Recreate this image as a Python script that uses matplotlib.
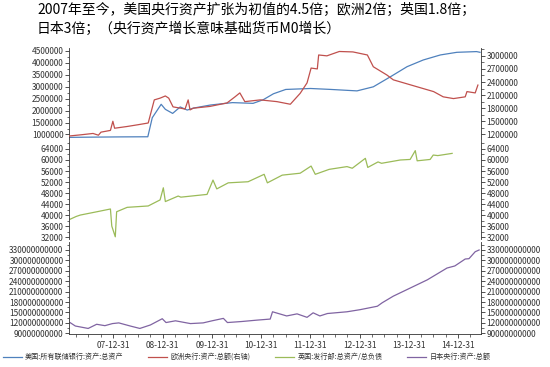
import matplotlib
matplotlib.use("Agg")
import matplotlib.pyplot as plt
import matplotlib.dates as mdates
from matplotlib.ticker import MultipleLocator, AutoMinorLocator, StrMethodFormatter
import pandas as pd

plt.rcParams['font.family'] = ['Noto Sans CJK SC', 'DejaVu Sans']

# -----------------------------------------------------------
# Datos
# -----------------------------------------------------------
fed_fechas = ["2007-02-01", "2007-08-01", "2008-03-01", "2008-09-12", "2008-10-15",
              "2008-12-20", "2009-01-20", "2009-03-15", "2009-05-10", "2009-07-01",
              "2009-08-15", "2009-12-20", "2010-06-01", "2010-11-01", "2011-01-15",
              "2011-04-01", "2011-07-01", "2012-01-01", "2012-06-01", "2012-12-10",
              "2013-04-10", "2013-08-15", "2013-12-16", "2014-04-15", "2014-08-20",
              "2014-12-20", "2015-05-15", "2015-06-10"]
fed_valores = [880000, 890000, 900000, 905000, 1700000,
               2260000, 2050000, 1880000, 2150000, 2020000,
               2100000, 2230000, 2330000, 2300000, 2450000,
               2700000, 2880000, 2920000, 2880000, 2820000,
               2990000, 3410000, 3830000, 4110000, 4320000,
               4430000, 4460000, 4430000]

bce_fechas = ["2007-02-01", "2007-05-08", "2007-08-03", "2007-09-12", "2007-10-01",
              "2007-12-10", "2007-12-28", "2008-01-10", "2008-04-12", "2008-07-01",
              "2008-09-15", "2008-10-30", "2008-12-12", "2009-01-20", "2009-02-14",
              "2009-03-18", "2009-05-12", "2009-06-15", "2009-07-08", "2009-07-22",
              "2009-08-15", "2009-12-16", "2010-04-22", "2010-06-20", "2010-07-26",
              "2010-09-01", "2010-12-24", "2011-04-27", "2011-08-04", "2011-10-16",
              "2011-12-06", "2012-01-05", "2012-02-20", "2012-03-01", "2012-05-01",
              "2012-08-01", "2012-11-10", "2013-02-25", "2013-04-10", "2013-07-20",
              "2013-09-05", "2014-03-01", "2014-07-01", "2014-09-10", "2014-11-25",
              "2015-02-20", "2015-03-05", "2015-05-05", "2015-05-25"]
bce_valores = [1160000, 1190000, 1220000, 1180000, 1250000,
               1290000, 1500000, 1340000, 1380000, 1420000,
               1460000, 1990000, 2030000, 2080000, 2030000,
               1830000, 1800000, 1780000, 1990000, 1760000,
               1800000, 1840000, 1920000, 2060000, 2150000,
               1950000, 1990000, 1950000, 1890000, 2140000,
               2380000, 2720000, 2700000, 3020000, 3000000,
               3100000, 3090000, 3020000, 2750000, 2560000,
               2450000, 2290000, 2180000, 2060000, 2020000,
               2060000, 2180000, 2150000, 2330000]

uk_fechas = ["2007-02-15", "2007-04-01", "2007-05-01", "2007-09-01", "2007-12-10",
             "2007-12-20", "2008-01-15", "2008-01-25", "2008-04-12", "2008-09-15",
             "2008-12-12", "2009-01-05", "2009-01-20", "2009-04-25", "2009-05-15",
             "2009-11-25", "2010-01-08", "2010-02-05", "2010-05-01", "2010-09-25",
             "2011-01-22", "2011-02-15", "2011-06-05", "2011-10-16", "2012-01-05",
             "2012-02-05", "2012-05-18", "2012-09-27", "2012-11-05", "2013-02-10",
             "2013-02-28", "2013-05-15", "2013-06-10", "2013-10-27", "2014-01-08",
             "2014-02-15", "2014-03-01", "2014-06-05", "2014-06-28", "2014-08-01",
             "2014-11-15"]
uk_valores = [38500, 39500, 40000, 41200, 42200,
              36000, 32100, 41200, 42800, 43300,
              45500, 49900, 44900, 46900, 46500,
              47500, 52700, 49500, 51700, 52100,
              54800, 51700, 54500, 55200, 57800,
              54800, 56600, 57600, 57000, 60600,
              57300, 59300, 58800, 60000, 60200,
              63400, 59700, 60200, 61800, 61600,
              62400]

jp_fechas = ["2007-02-15", "2007-03-25", "2007-06-28", "2007-08-30", "2007-10-30",
             "2007-12-25", "2008-02-10", "2008-05-05", "2008-07-15", "2008-10-01",
             "2008-12-28", "2009-01-25", "2009-04-05", "2009-07-25", "2009-10-27",
             "2010-01-01", "2010-03-26", "2010-04-25", "2010-08-10", "2010-12-01",
             "2011-03-08", "2011-03-25", "2011-07-08", "2011-09-23", "2011-12-06",
             "2012-01-20", "2012-03-10", "2012-05-05", "2012-09-27", "2013-01-01",
             "2013-05-10", "2013-06-15", "2013-09-05", "2013-12-16", "2014-03-01",
             "2014-05-15", "2014-07-27", "2014-10-08", "2014-12-05", "2015-02-20",
             "2015-03-20", "2015-05-05", "2015-06-03"]
jp_valores = [120.6, 111, 104, 116, 112,
              118, 120, 111, 104, 114,
              132, 121, 126, 118, 120,
              126, 133, 121, 124, 128,
              131, 152, 140, 146, 136,
              149, 140, 147, 152, 158,
              168, 178, 197, 216, 230,
              244, 261, 278, 284, 304,
              305, 325, 330]  # en miles de millones

etiquetas = ["美国:所有联储银行:资产:总资产", "欧洲央行:资产:总额(右轴)",
             "英国:发行部:总资产/总负债", "日本央行:资产:总额"]
colores = ["#4F81BD", "#C0504D", "#9BBB59", "#8064A2"]

titulo = ("2007年至今，美国央行资产扩张为初值的4.5倍；欧洲2倍；英国1.8倍；\n"
          "日本3倍；（央行资产增长意味基础货币M0增长）")

# -----------------------------------------------------------
# Gráfico
# -----------------------------------------------------------
fig = plt.figure(figsize=(5.5, 3.67), dpi=100)
fs = 6
gris = "#333333"

izq, ancho = 69 / 550, 412 / 550
ax1 = fig.add_axes([izq, 1 - 140 / 367, ancho, 92 / 367])
ax2 = fig.add_axes([izq, 1 - 239 / 367, ancho, 98 / 367], sharex=ax1)
ax3 = fig.add_axes([izq, 1 - 334 / 367, ancho, 92 / 367], sharex=ax1)

l1, = ax1.plot(pd.to_datetime(fed_fechas), fed_valores, color=colores[0], lw=0.9)
ax1r = ax1.twinx()
l2, = ax1r.plot(pd.to_datetime(bce_fechas), bce_valores, color=colores[1], lw=0.9)
l3, = ax2.plot(pd.to_datetime(uk_fechas), uk_valores, color=colores[2], lw=0.9)
ax2r = ax2.twinx()
l4, = ax3.plot(pd.to_datetime(jp_fechas), [v * 1e9 for v in jp_valores], color=colores[3], lw=0.9)
ax3r = ax3.twinx()

ax1.set_ylim(770000, 4610000)
ax1r.set_ylim(1070000, 3180000)
ax2.set_ylim(31300, 66900)
ax2r.set_ylim(31300, 66900)
ax3.set_ylim(88e9, 353e9)
ax3r.set_ylim(88e9, 353e9)

ax1.yaxis.set_major_locator(MultipleLocator(500000))
ax1r.yaxis.set_major_locator(MultipleLocator(300000))
for a in (ax2, ax2r):
    a.yaxis.set_major_locator(MultipleLocator(4000))
for a in (ax3, ax3r):
    a.yaxis.set_major_locator(MultipleLocator(30e9))

ax1.set_xlim(pd.Timestamp("2007-02-06"), pd.Timestamp("2015-06-17"))
ax3.xaxis.set_major_locator(mdates.YearLocator(month=12, day=31))
ax3.xaxis.set_minor_locator(mdates.MonthLocator(bymonth=[3, 6, 9], bymonthday=30))
ax3.xaxis.set_major_formatter(mdates.DateFormatter("%y-%m-%d"))

for a in (ax1, ax2, ax3, ax1r, ax2r, ax3r):
    a.yaxis.set_major_formatter(StrMethodFormatter("{x:.0f}"))
    a.yaxis.set_minor_locator(AutoMinorLocator(2))
    a.tick_params(axis="y", which="major", labelsize=fs, labelcolor=gris,
                  length=3, width=0.6, color=gris, pad=1)
    a.tick_params(axis="y", which="minor", length=1.8, width=0.5, color=gris)
    for s in a.spines.values():
        s.set_visible(False)
    a.spines["left"].set_visible(a in (ax1, ax2, ax3))
    a.spines["right"].set_visible(a in (ax1r, ax2r, ax3r))
    a.spines["left"].set_color(gris)
    a.spines["right"].set_color(gris)
    a.spines["left"].set_linewidth(0.6)
    a.spines["right"].set_linewidth(0.6)

for a in (ax1, ax2):
    a.tick_params(axis="x", which="both", bottom=False, labelbottom=False)
ax3.spines["bottom"].set_visible(True)
ax3.spines["bottom"].set_color(gris)
ax3.spines["bottom"].set_linewidth(0.6)
ax3.tick_params(axis="x", which="major", labelsize=fs, labelcolor=gris,
                length=3, width=0.6, color=gris, pad=2)
ax3.tick_params(axis="x", which="minor", length=1.8, width=0.5, color=gris)

fig.text(37 / 550, 1 - 3 / 367, titulo, fontsize=10, va="top", ha="left",
         linespacing=1.45, color="black")

fig.legend([l1, l2, l3, l4], etiquetas, loc="center left", ncol=4,
           bbox_to_anchor=(0.0, 1 - 357 / 367), frameon=False, fontsize=5.1,
           handlelength=2.7, columnspacing=3.5, handletextpad=0.42,
           labelcolor=gris, borderaxespad=0.2, borderpad=0.2)

fig.savefig("out.png", dpi=100)
